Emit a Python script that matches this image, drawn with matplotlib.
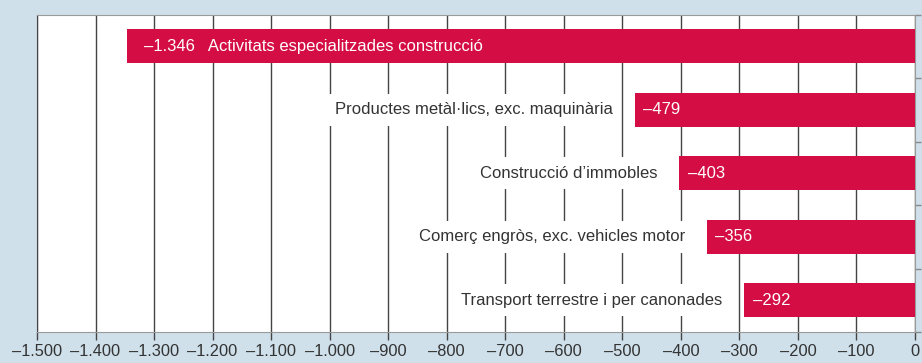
import matplotlib.pyplot as plt
import numpy as np

plt.rcParams['font.family'] = ['Liberation Sans', 'DejaVu Sans']

# data
categories = [
    "Activitats especialitzades construcció",
    "Productes metàl·lics, exc. maquinària",
    "Construcció d’immobles",
    "Comerç engròs, exc. vehicles motor",
    "Transport terrestre i per canonades",
]
values = [-1346, -479, -403, -356, -292]
xticks = list(range(-1500, 1, 100))


def fmt(v):
    # catalan style: thousands with dot, en dash as minus
    s = f"{abs(v):,}".replace(",", ".")
    return ("–" + s) if v < 0 else s


bg = '#cfe0eb'
red = '#d40e44'
grid_c = '#444444'
txt_c = '#333333'

fig = plt.figure(figsize=(9.22, 3.63), dpi=100, facecolor=bg)
ax = fig.add_axes([0.0401, 0.0854, 0.9523, 0.8746])
ax.set_facecolor('white')

y = np.arange(len(categories))
ax.barh(y, values, height=0.53, color=red, zorder=3)

ax.set_xlim(-1500, 0)
ax.set_ylim(len(categories) - 0.5, -0.5)

ax.set_xticks(xticks)
ax.set_xticklabels([fmt(t) for t in xticks], fontsize=11.8, color=txt_c)
ax.tick_params(axis='x', length=6, width=1, color=grid_c, pad=3)
ax.grid(axis='x', color=grid_c, linewidth=1, zorder=1)

# band boundaries as ticks on the right spine
ax.yaxis.tick_right()
ax.set_yticks(np.arange(-0.5, len(categories), 1.0))
ax.set_yticklabels([])
ax.tick_params(axis='y', length=4, width=1, color='#888888', direction='out')

for side in ['top', 'bottom', 'right']:
    ax.spines[side].set_color('#9a9a9a')
ax.spines['left'].set_color(grid_c)

# labels
for i, (cat, v) in enumerate(zip(categories, values)):
    if i == 0:
        ax.text(v + 29, i, fmt(v) + "   " + cat, va='center', ha='left',
                color='white', fontsize=12, zorder=4)
    else:
        ax.text(v + 15, i, fmt(v), va='center', ha='left',
                color='white', fontsize=12, zorder=4)
        ax.text(v - 37, i, cat, va='center', ha='right', color=txt_c,
                fontsize=12, zorder=4,
                bbox=dict(facecolor='white', edgecolor='none', pad=6))

fig.savefig('out.png', dpi=100, facecolor=bg)
